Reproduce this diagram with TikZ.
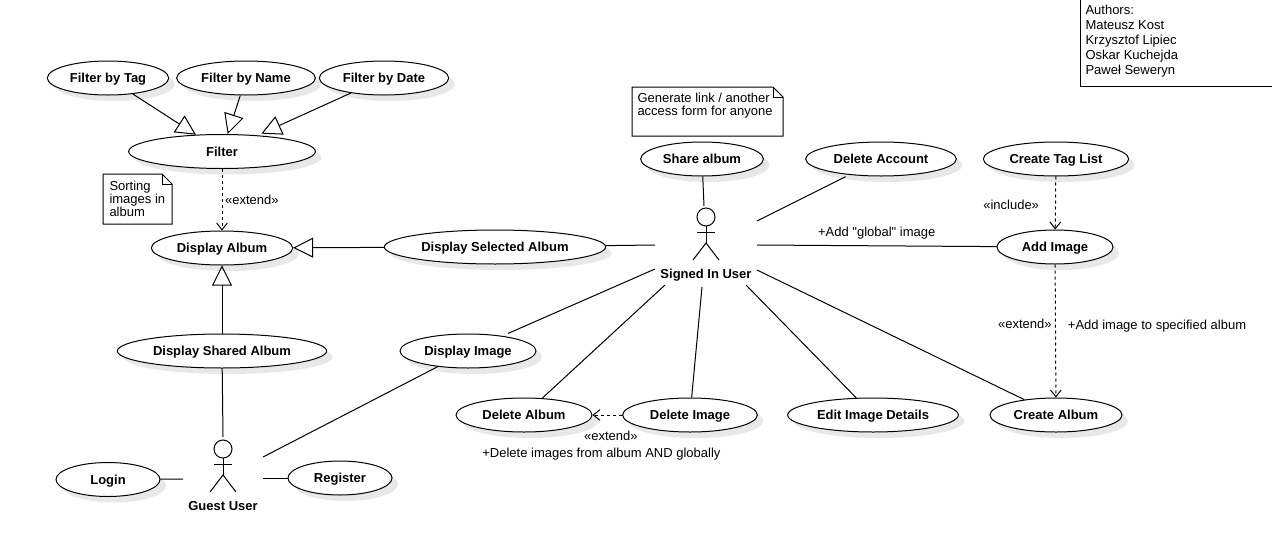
\documentclass[tikz,border=0pt]{standalone}
\usepackage{fontspec}
\setmainfont{Liberation Sans}
\newfontfamily\plainfont{Liberation Sans}
\usetikzlibrary{shapes,shadows,arrows.meta,positioning}
\tikzset{
  stickman/.pic={
    \draw (0,0) circle (9);
    \draw (0,9) -- (0,26);
    \draw (-9,15) -- (9,15);
    \draw (-13,43) -- (0,26) -- (13,43);
  },
  notebox/.pic={
    \draw (0,0) -- (\notew-10,0) -- (\notew,10) -- (\notew,\noteh) -- (0,\noteh) -- cycle;
    \draw (\notew-10,0) -- (\notew-10,10) -- (\notew,10);
  }
}
\newcommand{\notew}{0}
\newcommand{\noteh}{0}
\begin{document}
\begin{tikzpicture}[x=0.75pt,y=-0.75pt,line width=0.75pt,font=\fontsize{9.75}{9.75}\selectfont]
  \tikzstyle{usecase}=[ellipse,draw,fill=white,inner sep=0pt,minimum height=25.5pt,
    text height=7pt,text depth=0pt,font=\fontsize{9.75}{9.75}\selectfont\bfseries,
    drop shadow={shadow xshift=4.5pt,shadow yshift=-4.5pt,fill=black!9,opacity=1}]
  \tikzstyle{actorbox}=[inner sep=0pt,text height=7pt,text depth=0pt,
    font=\fontsize{9.75}{9.75}\selectfont\bfseries]
  \tikzstyle{txt}=[inner sep=0pt,align=left]
  \tikzstyle{inherit}=[-{Triangle[open,length=15pt,width=15pt]}]
  \tikzstyle{dep}=[dash pattern=on 2.25pt off 2.25pt,-{Straight Barb[length=5pt,width=8pt]}]

  \useasboundingbox[fill=white] (0,0) rectangle (1272,557);

  \node[usecase,minimum width=91pt]    (FilterTag)  at (108,78)    {Filter by Tag};
  \node[usecase,minimum width=104pt]   (FilterName) at (246,78)    {Filter by Name};
  \node[usecase,minimum width=97pt]    (FilterDate) at (384,78)    {Filter by Date};
  \node[usecase,minimum width=140pt]   (Filter)     at (222,151.5) {Filter};
  \node[usecase,minimum width=106pt]   (Album)      at (222,248)   {Display Album};
  \node[usecase,minimum width=166pt]   (Selected)   at (495,247)   {Display Selected Album};
  \node[usecase,minimum width=157pt]   (Shared)     at (222,351)   {Display Shared Album};
  \node[usecase,minimum width=102pt]   (Image)      at (468,351)   {Display Image};
  \node[usecase,minimum width=102pt]   (DelAlbum)   at (524,415)   {Delete Album};
  \node[usecase,minimum width=101pt]   (DelImage)   at (690,415)   {Delete Image};
  \node[usecase,minimum width=128pt]   (EditImage)  at (873,415)   {Edit Image Details};
  \node[usecase,minimum width=99pt]    (NewAlbum)   at (1056,415)  {Create Album};
  \node[usecase,minimum width=87pt]    (AddImage)   at (1055,247)  {Add Image};
  \node[usecase,minimum width=109pt]   (TagList)    at (1056,159)  {Create Tag List};
  \node[usecase,minimum width=113pt]   (DelAccount) at (881,159)   {Delete Account};
  \node[usecase,minimum width=92pt]    (Share)      at (702,159)   {Share album};
  \node[usecase,minimum width=78pt]    (Login)      at (108,479.5) {Login};
  \node[usecase,minimum width=78pt]    (Register)   at (340,478)   {Register};

  % actors
  \pic at (706,217) {stickman};
  \pic at (223,449) {stickman};
  \node[actorbox] (SignedIn) at (706,273.5) {Signed In User};
  \node[actorbox] (Guest)    at (223,505.5) {Guest User};

  \coordinate (SUtop)    at (704,206);
  \coordinate (SUacct)   at (757,221);
  \coordinate (SUleft)   at (655,245);
  \coordinate (SUright)  at (757,245);
  \coordinate (SUimage)  at (655,269);
  \coordinate (SUalbum)  at (665,285);
  \coordinate (SUdel)    at (702,287);
  \coordinate (SUedit)   at (746,285);
  \coordinate (SUcreate) at (757,270);
  \coordinate (GUtop)    at (223,437);
  \coordinate (GUimage)  at (263,457);
  \coordinate (GUleft)   at (183,479);
  \coordinate (GUright)  at (263,478);

  % notes
  \renewcommand{\notew}{69}\renewcommand{\noteh}{50}
  \pic at (103,174) {notebox};
  \node[txt,anchor=west] (NoteSort) at (109,198.5) {Sorting\\images in\\album};
  \renewcommand{\notew}{151}\renewcommand{\noteh}{49}
  \pic at (632,87) {notebox};
  \node[txt,anchor=west] (NoteLink) at (637,106) {Generate link / another\\access form for anyone};

  \draw (1080,-2) -- (1080,86) -- (1274,86);
  \node[txt,anchor=west,font=\fontsize{9.75}{11.25}\selectfont] (Authors) at (1085,41)
    {Authors:\\Mateusz Kost\\Krzysztof Lipiec\\Oskar Kuchejda\\Paweł Seweryn};

  \path
  (FilterTag)  edge [inherit] (Filter)
  (FilterName) edge [inherit] (Filter)
  (FilterDate) edge [inherit,shorten >=3pt] (Filter)
  (Selected)   edge [inherit] (Album)
  (Shared)     edge [inherit] (Album)
  (Filter)     edge [dep] node[txt,right=2pt,pos=0.495] {«extend»} (Album)
  (TagList)    edge [dep] node[txt,left=12pt,pos=0.535] {«include»} (AddImage)
  (AddImage)   edge [dep] node[txt,left=2.5pt,pos=0.45] {«extend»}
                          node[txt,right=9pt,pos=0.465] {+Add image to specified album} (NewAlbum)
  (DelImage)   edge [dep] node[txt,below=12pt,pos=0.38] {«extend»}
                          node[txt,below=24.5pt,pos=0.7] {+Delete images from album AND globally} (DelAlbum)
  (Share)      edge (SUtop)
  (DelAccount) edge [shorten <=3pt] (SUacct)
  (Selected)   edge (SUleft)
  (AddImage)   edge node[txt,above=4.5pt,pos=0.5] {\plainfont +Add "global" image} (SUright)
  (Image)      edge [shorten <=4.5pt] (SUimage)
  (DelAlbum)   edge (SUalbum)
  (DelImage)   edge (SUdel)
  (EditImage)  edge (SUedit)
  (NewAlbum)   edge (SUcreate)
  (Shared)     edge (GUtop)
  (Image)      edge (GUimage)
  (Login)      edge (GUleft)
  (Register)   edge (GUright)
  ;
\end{tikzpicture}
\end{document}
